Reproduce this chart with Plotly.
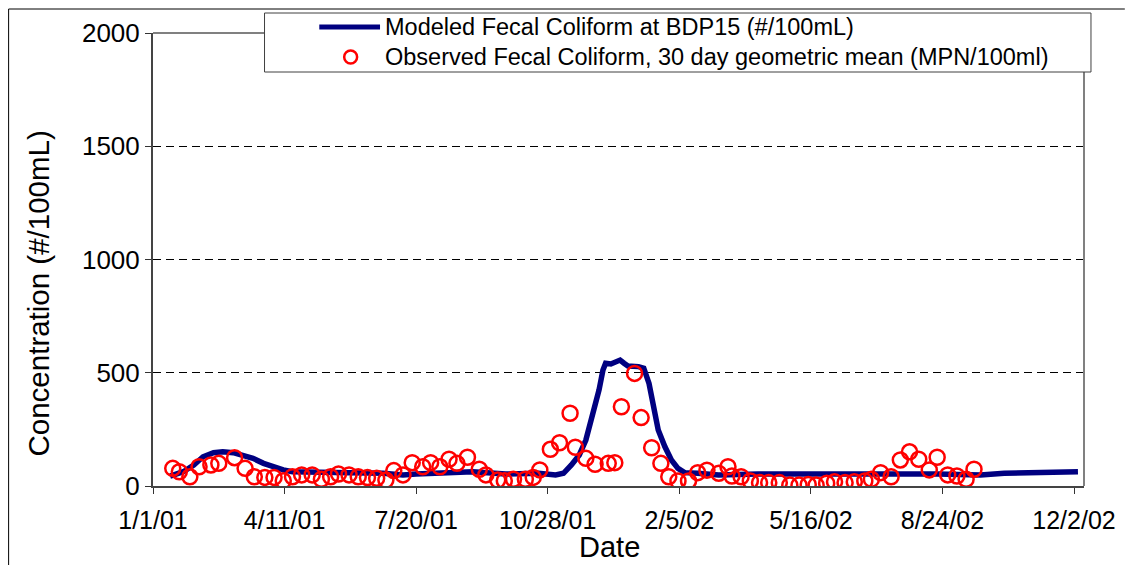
import pandas as pd
import plotly.graph_objects as go

START = pd.Timestamp("2001-01-01")

# Modeled fecal coliform at BDP15 (#/100mL), by days since 1 Jan 2001
model_day = [13, 23, 31, 38, 46, 53, 61, 68, 76, 84,
             91, 99, 106, 124, 149, 175, 190, 200, 225, 243,
             268, 293, 306, 312, 318, 324, 329, 334, 339, 342,
             344, 348, 351, 355, 358, 361, 369, 373, 377, 380,
             384, 389, 394, 399, 404, 414, 430, 460, 505, 551,
             596, 629, 647, 672, 697, 703]
model_val = [44, 63, 93, 129, 147, 151, 147, 137, 122, 100,
             85, 71, 63, 59, 59, 56, 49, 53, 56, 63,
             53, 56, 49, 56, 93, 137, 203, 306, 424, 512,
             542, 539, 549, 556, 542, 530, 527, 520, 453, 350,
             247, 174, 115, 78, 59, 56, 49, 53, 50, 53,
             53, 49, 56, 59, 66, 63]

# Observed fecal coliform, 30 day geometric mean (MPN/100ml)
obs_day = [15, 20, 28, 35, 44, 50, 62, 70, 77, 85,
           92, 99, 106, 113, 121, 128, 135, 141, 149, 156,
           163, 170, 177, 183, 190, 197, 205, 211, 218, 225,
           231, 239, 248, 253, 262, 267, 274, 283, 289, 294,
           302, 309, 317, 321, 329, 336, 346, 351, 356, 366,
           371, 379, 386, 392, 399, 407, 414, 421, 430, 437,
           440, 447, 454, 461, 468, 476, 484, 491, 498, 504,
           512, 518, 526, 533, 541, 546, 553, 561, 568, 575,
           582, 590, 596, 604, 611, 618, 624]
obs_val = [78, 63, 41, 85, 93, 100, 125, 78, 41, 38,
           38, 23, 41, 49, 49, 30, 41, 53, 49, 41,
           37, 34, 26, 68, 49, 103, 85, 103, 85, 118,
           100, 127, 74, 49, 26, 23, 30, 30, 38, 71,
           162, 191, 321, 171, 122, 96, 100, 103, 350, 497,
           302, 169, 100, 41, 22, 22, 59, 70, 56, 85,
           44, 41, 22, 15, 15, 15, 4, 4, 7, 4,
           12, 19, 15, 19, 22, 30, 59, 41, 115, 151,
           118, 71, 127, 49, 44, 30, 74]

# Axis ticks
x_tick_day = [0, 100, 200, 300, 400, 500, 600, 700]
y_ticks = [0, 500, 1000, 1500, 2000]

model_name = "Modeled Fecal Coliform at BDP15 (#/100mL)"
obs_name = "Observed Fecal Coliform, 30 day geometric mean (MPN/100ml)"
x_title = "Date"
y_title = "Concentration (#/100mL)"


def to_dates(days):
    return START + pd.to_timedelta(days, unit="D")


FONT = "Liberation Sans, Arial, sans-serif"
W, H = 1128, 565
L, R, T, B = 153, 40, 33, 79
PW, PH = W - L - R, H - T - B


def px(x):
    return (x - L) / PW


def py(y):
    return (H - B - y) / PH


fig = go.Figure()
fig.add_trace(go.Scatter(
    x=to_dates(model_day), y=model_val, mode="lines", name=model_name,
    line=dict(color="#000080", width=5.5), showlegend=False,
))
fig.add_trace(go.Scatter(
    x=to_dates(obs_day), y=obs_val, mode="markers", name=obs_name,
    marker=dict(symbol="circle-open", size=15, color="#ff0000",
                line=dict(width=2.5, color="#ff0000")),
    showlegend=False,
))

shapes = [
    # frame: top and right edges of the plot area
    dict(type="line", xref="paper", yref="paper", x0=0, x1=1, y0=1, y1=1,
         line=dict(color="#808080", width=2), layer="above"),
    dict(type="line", xref="paper", yref="paper", x0=1, x1=1, y0=0, y1=1,
         line=dict(color="#808080", width=2), layer="above"),
    # outer chart border
    dict(type="line", xref="paper", yref="paper", x0=px(8), x1=px(8), y0=py(9), y1=py(566),
         line=dict(color="#000000", width=1)),
    dict(type="line", xref="paper", yref="paper", x0=px(8), x1=px(1129), y0=py(9), y1=py(9),
         line=dict(color="#000000", width=1)),
    # legend box
    dict(type="rect", xref="paper", yref="paper", x0=px(265), x1=px(1095), y0=py(72), y1=py(13),
         fillcolor="white", line=dict(color="#404040", width=1), layer="above"),
    dict(type="line", xref="paper", yref="paper", x0=px(320), x1=px(381), y0=py(27), y1=py(27),
         line=dict(color="#000080", width=5), layer="above"),
    dict(type="circle", xref="paper", yref="paper", x0=px(345), x1=px(358), y0=py(63.5), y1=py(50.5),
         line=dict(color="#ff0000", width=2.5), layer="above"),
]

annotations = [
    dict(text=model_name, xref="paper", yref="paper", x=px(384), y=py(27),
         xanchor="left", yanchor="middle", showarrow=False,
         font=dict(family=FONT, size=23.5, color="black")),
    dict(text=obs_name, xref="paper", yref="paper", x=px(384), y=py(57),
         xanchor="left", yanchor="middle", showarrow=False,
         font=dict(family=FONT, size=23.5, color="black")),
    # axis titles
    dict(text=x_title, xref="paper", yref="paper", x=px(611), y=py(547),
         xanchor="center", yanchor="middle", showarrow=False,
         font=dict(family=FONT, size=29, color="black")),
    dict(text=y_title, xref="paper", yref="paper", x=px(38), y=py(293),
         xanchor="center", yanchor="middle", showarrow=False, textangle=-90,
         font=dict(family=FONT, size=29.5, color="black")),
]

fig.update_layout(
    width=W, height=H,
    margin=dict(l=L, r=R, t=T, b=B, pad=0),
    paper_bgcolor="white", plot_bgcolor="white",
    font=dict(family=FONT, color="black"),
    shapes=shapes, annotations=annotations,
    xaxis=dict(
        type="date",
        range=[START, START + pd.Timedelta(days=707.6)],
        tickvals=list(to_dates(x_tick_day)),
        tickformat="%-m/%-d/%y",
        ticks="outside", ticklen=6, tickwidth=1, tickcolor="#333",
        showline=True, linecolor="#444", linewidth=2,
        showgrid=False, zeroline=False,
        tickfont=dict(size=25),
        ticklabelstandoff=5,
    ),
    yaxis=dict(
        range=[0, 2000],
        tickvals=y_ticks,
        ticks="outside", ticklen=6, tickwidth=1, tickcolor="#333",
        showline=True, linecolor="#444", linewidth=2,
        showgrid=True, gridcolor="#000000", gridwidth=1, griddash="8px,5px",
        zeroline=False,
        tickfont=dict(size=26),
    ),
)

fig.write_html("out.html")
